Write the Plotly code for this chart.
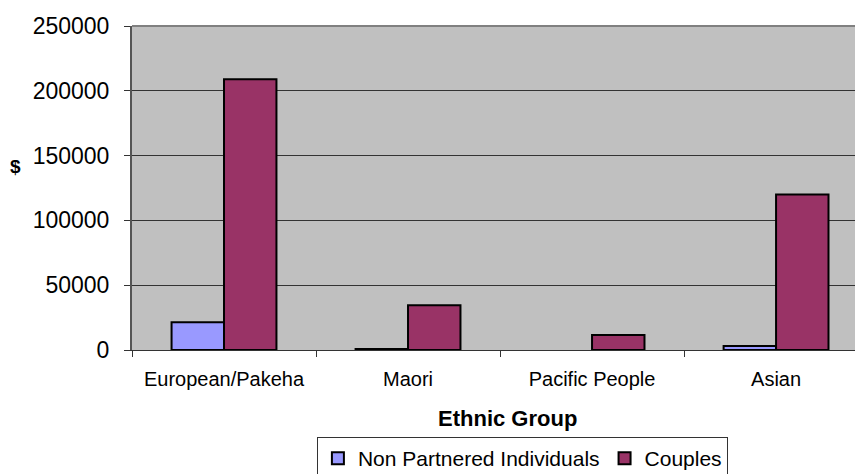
import plotly.graph_objects as go

categories = ["European/Pakeha", "Maori", "Pacific People", "Asian"]
non_partnered = [21500, 800, None, 3000]
couples = [209000, 34500, 11500, 120000]

fig = go.Figure()
fig.add_trace(go.Bar(name="Non Partnered Individuals", x=categories, y=non_partnered,
                     marker=dict(color="#9999FF", line=dict(color="black", width=2))))
fig.add_trace(go.Bar(name="Couples", x=categories, y=couples,
                     marker=dict(color="#993366", line=dict(color="black", width=2))))

fig.update_layout(
    width=855, height=474,
    margin=dict(l=132, r=0, t=26, b=124),
    paper_bgcolor="white", plot_bgcolor="#C0C0C0",
    barmode="group", bargap=0.43, bargroupgap=0,
    font=dict(family="Arial, Liberation Sans", color="black"),
    legend=dict(orientation="h", xref="container", yref="container",
                x=0.611, xanchor="center", y=(474 - 437) / 474, yanchor="top",
                bordercolor="#333333", borderwidth=1, font=dict(size=21),
                itemwidth=30, tracegroupgap=0),
    showlegend=True,
)
fig.update_xaxes(range=[-0.5, 3.429], showline=True, linecolor="#333333", linewidth=1,
                 ticks="outside", tickson="boundaries", ticklen=6, tickcolor="#333333",
                 tickfont=dict(size=20), ticklabelstandoff=11, automargin=False)
fig.update_yaxes(range=[0, 250000], dtick=50000, showgrid=True, gridcolor="#333333", gridwidth=1,
                 showline=True, linecolor="#555555", linewidth=2,
                 ticks="outside", ticklen=6, tickcolor="#333333", tickfont=dict(size=23),
                 ticklabelstandoff=10, tickformat="d", zeroline=False, automargin=False)
fig.add_shape(type="line", xref="paper", yref="paper", x0=0, x1=1, y0=1, y1=1,
              line=dict(color="#808080", width=2))
fig.add_annotation(text="<b>Ethnic Group</b>", xref="paper", yref="paper",
                   x=(507 - 132) / 723, y=(350 - 418) / 324, showarrow=False,
                   xanchor="center", yanchor="middle", font=dict(size=22))
fig.add_annotation(text="<b>$</b>", xref="paper", yref="paper",
                   x=(16 - 132) / 723, y=(350 - 166) / 324, showarrow=False,
                   xanchor="center", yanchor="middle", font=dict(size=19))

fig.write_html("out.html")
